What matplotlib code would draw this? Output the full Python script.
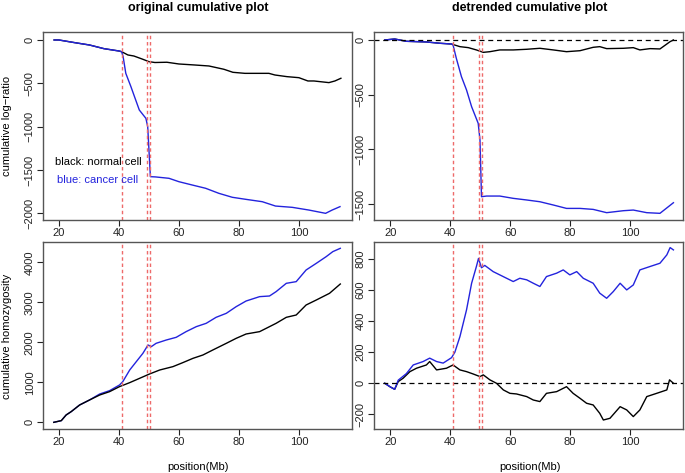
import matplotlib
matplotlib.use("Agg")
import matplotlib.pyplot as plt

plt.rcParams['font.family'] = ['Liberation Sans', 'DejaVu Sans']

# breakpoints (Mb)
breaks = [40.9, 49.5, 50.5]

# original cumulative log-ratio
lr_normal_x = [18.4, 20, 25.3, 30.2, 35, 40, 40.9, 43, 45, 48, 50, 52, 56, 60, 65, 70, 75, 78,
               82, 85, 90, 92, 96, 100, 103, 105, 110, 112, 114]
lr_normal_y = [0, 0, -31, -58, -100, -127, -135, -173, -185, -223, -250, -260, -257, -277, -288,
               -300, -338, -373, -385, -385, -385, -404, -423, -435, -473, -473, -492, -473, -442]
lr_cancer_x = [18.4, 20, 25.3, 30.2, 35, 40, 40.9, 41.4, 42.3, 44, 45.2, 46.8, 48.1, 49.0, 49.6,
               50.5, 52.2, 56.7, 60, 64.4, 68.9, 73.3, 77.8, 82.2, 87.8, 92.2, 97.8, 103.3,
               108.9, 111.1, 113.7]
lr_cancer_y = [0, 0, -31, -58, -100, -127, -135, -192, -385, -538, -654, -808, -865, -904, -1000,
               -1577, -1580, -1596, -1635, -1673, -1711, -1769, -1815, -1838, -1866, -1916,
               -1931, -1962, -2000, -1962, -1923]

# detrended cumulative log-ratio
dlr_normal_x = [18.1, 21.4, 25.3, 32, 36.5, 40.4, 43.2, 46, 48.7, 51, 53.2, 56.5, 61, 65.5, 69.9,
                74.4, 78.8, 83.3, 87.7, 89.9, 92.2, 97.8, 101.1, 103.3, 106.7, 110, 113.4, 114.5]
dlr_normal_y = [0, 9, -12, -18, -30, -37, -61, -70, -91, -113, -107, -91, -91, -85, -76, -91,
                -107, -98, -67, -61, -79, -76, -70, -91, -79, -82, -15, 0]
dlr_cancer_x = [18.1, 21.4, 25.3, 32, 36.5, 40.4, 40.9, 42, 43.7, 45.4, 47.1, 48.2, 49.3, 49.9,
                50.4, 52.1, 56.5, 61, 65.5, 69.9, 74.4, 78.8, 83.3, 87.7, 92.2, 97.8, 101.1,
                105.6, 110, 114.5]
dlr_cancer_y = [0, 9, -12, -18, -30, -37, -46, -168, -335, -457, -610, -686, -762, -915, -1433,
                -1427, -1427, -1448, -1463, -1479, -1509, -1540, -1540, -1549, -1579, -1561,
                -1555, -1579, -1585, -1488]

# original cumulative homozygosity
hz_normal_x = [18.3, 20.8, 22.4, 24.1, 26.9, 30.2, 33.6, 36.9, 40.2, 43.6, 46.9, 50.2, 53.6, 58,
               61.3, 64.7, 68, 71.3, 75.8, 79.1, 82.4, 86.9, 89.1, 92.4, 95.8, 99.1, 102.4,
               105.8, 110.2, 113.8]
hz_normal_y = [0, 42, 183, 267, 433, 558, 683, 767, 892, 992, 1100, 1208, 1308, 1392, 1492, 1600,
               1683, 1808, 1975, 2100, 2208, 2267, 2350, 2475, 2625, 2683, 2933, 3058, 3225, 3458]
hz_cancer_x = [18.3, 20.8, 22.4, 24.1, 26.9, 30.2, 33.6, 36.9, 40.2, 41.3, 43.6, 45.8, 48, 49.7,
               50.8, 52.4, 55.8, 59.1, 62.4, 65.8, 69.1, 72.4, 75.8, 79.1, 82.4, 86.9, 90.2,
               92.4, 95.8, 99.1, 102.4, 105.8, 109.1, 111.3, 113.8]
hz_cancer_y = [0, 42, 183, 267, 433, 558, 708, 792, 933, 1017, 1308, 1517, 1725, 1933, 1892, 1975,
               2058, 2125, 2267, 2392, 2475, 2625, 2725, 2892, 3033, 3142, 3158, 3267, 3475,
               3517, 3808, 3975, 4142, 4267, 4350]

# detrended cumulative homozygosity
dhz_normal_x = [18.1, 19.8, 21.4, 22.6, 24.2, 26.5, 28.7, 32, 33.1, 35.4, 38.7, 40.9, 43.2, 45.4,
                47.6, 49.9, 51, 53.2, 55.4, 57.7, 59.9, 62.1, 65.5, 67.7, 69.9, 72.1, 75.5,
                78.8, 81, 83.3, 85.5, 87.7, 89.9, 91.1, 93.3, 96.7, 98.9, 101.1, 103.3, 105.6,
                108.9, 112.3, 113.2, 114.5]
dhz_normal_y = [0, -22, -39, 11, 32, 75, 97, 118, 140, 86, 97, 118, 86, 75, 60, 43, 54, 22, 0,
                -43, -65, -69, -86, -108, -118, -65, -54, -22, -65, -97, -129, -140, -194, -237,
                -226, -151, -172, -215, -172, -86, -65, -43, 22, 0]
dhz_cancer_x = [18.1, 19.8, 21.4, 22.6, 25.3, 27.6, 30.9, 33.1, 35.4, 37.6, 40.4, 41.5, 43.2,
                45.4, 47.1, 48.7, 49.4, 50.4, 51.5, 54.3, 56.5, 58.8, 61, 63.2, 65.5, 67.7, 69.9,
                72.1, 75.5, 77.7, 79.9, 82.2, 84.4, 87.7, 89.9, 92.2, 94.4, 96.7, 98.9, 101.1,
                103.3, 106.7, 110, 112.3, 113.4, 114.5]
dhz_cancer_y = [0, -22, -39, 20, 62, 118, 140, 162, 140, 130, 165, 200, 301, 473, 645, 753, 805,
                745, 760, 720, 699, 677, 656, 677, 667, 645, 624, 688, 710, 731, 699, 720, 677,
                645, 581, 548, 591, 645, 602, 634, 731, 753, 774, 828, 875, 860]

W, H = 685, 473
fig = plt.figure(figsize=(W / 100, H / 100), dpi=100)


def make_axes(left, top, right, bottom):
    return fig.add_axes([left / W, 1 - bottom / H, (right - left) / W, (bottom - top) / H])


axA = make_axes(43, 32, 352, 220)
axB = make_axes(374, 32, 683, 220)
axC = make_axes(43, 242, 352, 429)
axD = make_axes(374, 242, 683, 429)

blue = '#2323dd'
axA.plot(lr_normal_x, lr_normal_y, color='black', lw=1)
axA.plot(lr_cancer_x, lr_cancer_y, color=blue, lw=1)
axB.plot(dlr_normal_x, dlr_normal_y, color='black', lw=1)
axB.plot(dlr_cancer_x, dlr_cancer_y, color=blue, lw=1)
axC.plot(hz_cancer_x, hz_cancer_y, color=blue, lw=1)
axC.plot(hz_normal_x, hz_normal_y, color='black', lw=1)
axD.plot(dhz_normal_x, dhz_normal_y, color='black', lw=1)
axD.plot(dhz_cancer_x, dhz_cancer_y, color=blue, lw=1)

for ax in (axB, axD):
    ax.axhline(0, color='black', lw=0.9, ls=(0, (4, 3)))

for ax in (axA, axB, axC, axD):
    for b in breaks:
        ax.axvline(b, color='#ee6a6a', lw=1, ls=(0, (2.5, 2)))
    ax.set_xticks([20, 40, 60, 80, 100])
    ax.tick_params(direction='out', length=4, width=0.8, labelsize=8, colors='#222222',
                   pad=2)
    for sp in ax.spines.values():
        sp.set_color('#555555')
        sp.set_linewidth(1)

axA.set_xlim(14.7, 117.7)
axB.set_xlim(14.5, 117.7)
axC.set_xlim(14.7, 117.7)
axD.set_xlim(14.5, 117.7)
axA.set_ylim(-2077, 92)
axB.set_ylim(-1646, 73)
axC.set_ylim(-167, 4508)
axD.set_ylim(-295, 911)

axA.set_yticks([0, -500, -1000, -1500, -2000])
axB.set_yticks([0, -500, -1000, -1500])
axC.set_yticks([0, 1000, 2000, 3000, 4000])
axD.set_yticks([-200, 0, 200, 400, 600, 800])

for ax in (axA, axB, axC, axD):
    plt.setp(ax.get_yticklabels(), rotation=90, va='center')

axA.text(18.7, -1408, 'black: normal cell', fontsize=8, color='black', va='center')
axA.text(19.3, -1615, 'blue: cancer cell', fontsize=8, color=blue, va='center')

fig.text(198 / W, 1 - 8 / H, 'original cumulative plot', ha='center', va='center',
         fontsize=9, fontweight='bold')
fig.text(530 / W, 1 - 8 / H, 'detrended cumulative plot', ha='center', va='center',
         fontsize=9, fontweight='bold')
fig.text(7 / W, 1 - 126 / H, 'cumulative log\u2212ratio', rotation=90, ha='center',
         va='center', fontsize=8)
fig.text(7 / W, 1 - 336 / H, 'cumulative homozygosity', rotation=90, ha='center',
         va='center', fontsize=8)
fig.text(198 / W, 1 - 467 / H, 'position(Mb)', ha='center', va='center', fontsize=8)
fig.text(530 / W, 1 - 467 / H, 'position(Mb)', ha='center', va='center', fontsize=8)

fig.savefig('out.png', dpi=100)
plt.close(fig)
